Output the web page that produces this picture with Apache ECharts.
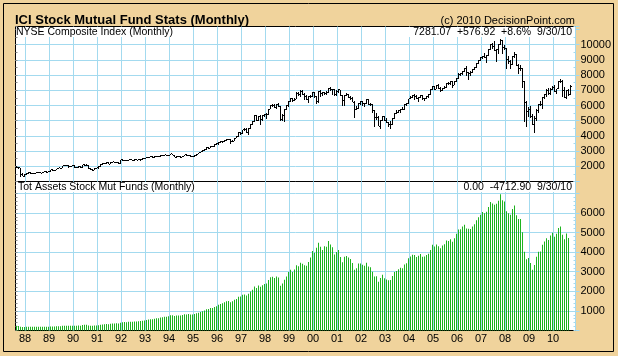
<!DOCTYPE html>
<html><head><meta charset="utf-8">
<script src="https://cdn.jsdelivr.net/npm/echarts@6/dist/echarts.min.js"></script>
<style>html,body{margin:0;padding:0;background:#fff}#c{width:618px;height:356px}</style>
</head><body><div id="c"></div>
<script>
// ---- data ----
const startYear = 1987, startMonth = 8, monthCount = 280; // Aug 1987 .. Nov 2010 axis
const yearLabels = ['88','89','90','91','92','93','94','95','96','97','98','99','00','01','02','03','04','05','06','07','08','09','10'];
const priceTicks = [2000,3000,4000,5000,6000,7000,8000,9000,10000];
const assetTicks = [1000,2000,3000,4000,5000,6000];

const nyseClose = [
1950,1900,1490,1360,1460,
1520,1590,1530,1550,1550,1620,1610,1550,1610,1650,1620,1650,
1770,1710,1750,1830,1890,1870,2030,2060,2050,1990,2020,2060,
1910,1930,1970,1920,2090,2070,2060,1860,1760,1750,1850,1900,
1980,2120,2160,2170,2250,2150,2240,2290,2250,2280,2180,2430,
2380,2410,2350,2420,2420,2380,2470,2410,2440,2440,2520,2540,
2560,2590,2640,2570,2630,2640,2630,2720,2690,2750,2710,2740,
2820,2730,2610,2630,2660,2590,2660,2760,2680,2740,2630,2650,
2710,2800,2880,2950,3050,3110,3210,3200,3320,3300,3430,3480,
3590,3610,3640,3690,3770,3770,3600,3660,3860,3960,4240,4150,
4400,4420,4230,4480,4740,4940,5320,5010,5280,5090,5320,5400,
5420,5760,6020,6030,5870,6050,5950,5050,5320,5710,6000,6290,
6450,6300,6420,6800,6700,6950,6750,6600,6400,6600,6600,6880,
6570,6290,6900,6820,6830,6790,6830,7150,7030,7030,6720,6950,
7030,6640,6320,6660,6720,6540,6490,6230,5720,5790,6120,6240,
6110,6110,6390,6100,6050,5690,5190,5220,4640,4990,5260,5000,
4860,4750,4780,5160,5500,5560,5640,5770,5720,6060,6130,6440,
6550,6690,6600,6440,6500,6660,6450,6470,6600,6700,7030,7250,
7080,7300,7150,6980,7150,7200,7470,7450,7550,7340,7590,7750,
8070,8100,8230,8420,8150,8130,8190,8350,8470,8740,8960,9140,
9230,9150,9270,9690,10000,9880,9620,9660,10010,10300,9800,9740,
9060,8880,8700,9200,9360,8650,8430,8440,7600,6170,5600,5760,
5300,4720,5130,5660,6070,6040,6510,6700,6970,6760,7060,7190,
6890,7090,7550,7590,6960,6520,6980,6700,7280
];
const nyseHigh = [
1990,1960,1920,1530,1480,
1560,1610,1620,1580,1580,1640,1650,1630,1630,1680,1670,1670,
1780,1790,1780,1840,1910,1920,2040,2100,2080,2090,2040,2080,
2080,1960,2000,1990,2100,2120,2130,2070,1880,1790,1860,1920,
2000,2140,2200,2210,2270,2270,2260,2310,2310,2310,2310,2440,
2460,2440,2430,2440,2450,2430,2480,2480,2470,2470,2530,2560,
2580,2620,2670,2650,2650,2660,2660,2730,2740,2770,2760,2760,
2840,2840,2750,2650,2680,2680,2670,2770,2780,2760,2760,2670,
2730,2820,2900,2960,3070,3130,3240,3240,3340,3340,3440,3510,
3600,3680,3680,3730,3800,3810,3790,3720,3880,3990,4260,4280,
4420,4500,4500,4500,4780,4990,5350,5360,5330,5400,5360,5460,
5480,5780,6060,6110,6070,6080,6170,5970,5420,5740,6030,6300,
6510,6480,6520,6880,6900,6990,7040,6800,6700,6640,6680,6900,
6910,6620,6940,7000,6920,6900,6930,7180,7200,7120,7110,6990,
7100,7050,6700,6700,6820,6770,6600,6550,6280,5960,6160,6270,
6290,6180,6420,6400,6180,6080,5720,5500,5300,5050,5340,5300,
5150,4900,4950,5180,5520,5680,5700,5780,5870,6080,6170,6450,
6620,6720,6750,6700,6540,6680,6690,6510,6650,6740,7060,7270,
7260,7360,7420,7220,7170,7300,7500,7560,7600,7600,7620,7800,
8110,8170,8290,8500,8630,8180,8240,8400,8540,8770,9000,9190,
9290,9480,9320,9720,10030,10120,10240,9740,10050,10390,10330,10000,
9800,9250,9000,9280,9550,9420,8720,8650,8500,7620,6300,5920,
6000,5470,5300,5740,6100,6300,6560,6770,7060,7160,7140,7260,
7330,7120,7590,7740,7680,7200,7050,7120,7350
];
const nyseLow = [
1870,1830,1320,1340,1320,
1430,1500,1510,1500,1510,1540,1580,1530,1540,1600,1590,1610,
1640,1700,1700,1740,1820,1840,1860,2020,2030,1920,1980,2000,
1870,1880,1920,1880,1910,2050,2020,1810,1740,1680,1740,1840,
1830,1970,2100,2130,2150,2120,2140,2200,2230,2230,2160,2150,
2360,2360,2330,2330,2400,2350,2360,2390,2400,2380,2430,2500,
2520,2520,2580,2540,2560,2600,2600,2620,2670,2680,2680,2700,
2730,2720,2580,2560,2610,2570,2580,2650,2670,2660,2610,2600,
2630,2700,2790,2870,2940,3030,3100,3160,3190,3250,3290,3420,
3420,3560,3560,3610,3660,3720,3440,3580,3640,3840,3950,4040,
4110,4340,4200,4050,4460,4700,4920,4980,4990,4750,5000,5240,
5140,5400,5740,5930,5840,5800,5900,4960,5000,4900,5690,5880,
6230,6200,6290,6400,6620,6580,6700,6380,6340,6180,6500,6560,
6500,6120,6160,6570,6600,6680,6690,6810,6950,6700,6650,6630,
6850,6600,6000,6000,6600,6480,6380,6200,5200,5700,5780,6060,
6000,5900,6090,6050,5950,5500,4600,5050,4630,4450,4960,4960,
4830,4600,4450,4740,5110,5470,5480,5540,5690,5700,5950,6110,
6420,6520,6380,6420,6240,6470,6360,6270,6440,6480,6680,7000,
6990,7060,7100,6860,6940,7110,7180,7370,7360,7140,7320,7570,
7740,7970,8020,8200,7940,7710,7950,8120,8310,8440,8730,8950,
9060,9100,8800,9240,9670,9700,9580,8840,9390,9980,9420,9640,
8430,8720,8400,8650,9160,8620,8050,8270,7130,4900,4610,5230,
5190,4710,4180,4970,5520,5940,5750,6460,6560,6720,6690,7020,
6860,6730,7080,7480,6550,6480,6420,6600,6690
];
const stockFundAssets = [
240,235,185,175,180,
185,190,188,190,190,195,193,188,193,196,193,195,
205,202,207,215,222,222,237,242,243,238,243,248,
240,245,252,248,280,290,288,258,242,240,252,258,
270,295,310,315,330,320,340,355,355,365,355,400,
415,430,425,440,450,445,465,460,470,480,500,515,
535,555,580,580,605,620,630,665,680,705,700,730,
780,775,745,760,770,760,790,830,820,840,810,820,
840,880,910,945,985,1025,1080,1100,1145,1150,1205,1240,
1310,1350,1385,1440,1490,1500,1440,1490,1570,1610,1720,1730,
1820,1840,1780,1870,1990,2080,2250,2170,2300,2230,2310,2370,
2400,2580,2720,2740,2680,2760,2700,2280,2400,2590,2760,2980,
3100,2980,3110,3330,3280,3450,3400,3330,3300,3500,3720,4060,
3960,4220,4480,4270,4100,4300,4270,4560,4390,4240,3880,4010,
4100,3750,3480,3760,3800,3720,3650,3440,3100,3180,3420,3420,
3360,3300,3450,3270,3220,3000,2760,2770,2490,2680,2850,2670,
2600,2560,2570,2780,2980,3040,3120,3200,3170,3370,3430,3680,
3780,3860,3850,3750,3810,3900,3760,3770,3850,3910,4110,4380,
4280,4390,4300,4200,4340,4400,4590,4570,4650,4530,4710,4940,
5150,5170,5300,5400,5200,5190,5180,5310,5420,5620,5780,5910,
6040,5980,6060,6300,6550,6480,6420,6460,6620,6950,6650,6580,
6080,5980,5900,6200,6370,5880,5690,5690,5010,4020,3640,3700,
3440,3100,3340,3760,4020,4030,4380,4540,4700,4620,4850,4990,
4780,4930,5230,5300,4890,4650,4950,4720
];

// ---- build ----
const months = [];
for (let k = 0; k < monthCount; k++) {
  const m0 = startMonth - 1 + k;
  const y = startYear + Math.floor(m0 / 12);
  const m = m0 % 12 + 1;
  months.push(y + '-' + String(m).padStart(2, '0'));
}
const isJan = (i) => !!months[i] && months[i].endsWith('-01');
const yearLabel = (v) => { const y = +String(v).slice(0, 4); return yearLabels[y - 1988] || ''; };

const TAN = '#f0d39c';
const BLUE = '#a3daef';
const FONT = '"Liberation Sans", Arial, sans-serif';
const T = 'rgba(0,0,0,0)';
const topLineColors = [T, BLUE, BLUE, BLUE, BLUE, BLUE, BLUE, BLUE, BLUE, BLUE, T, T];
const botLineColors = [T, BLUE, BLUE, BLUE, BLUE, BLUE, BLUE, BLUE, T];

function renderHLC(params, api) {
  const i = api.value(0);
  const h = api.coord([i, api.value(1)]);
  const l = api.coord([i, api.value(2)]);
  const c = api.coord([i, api.value(3)]);
  const x = Math.round(h[0] - 0.5) + 0.5;
  const y1 = Math.round(h[1]);
  let y2 = Math.round(l[1]);
  if (y2 <= y1) y2 = y1 + 1;
  const yc = Math.round(c[1] - 0.5) + 0.5;
  return { type: 'group', children: [
    { type: 'line', shape: { x1: x, y1: y1, x2: x, y2: y2 }, style: { stroke: '#000', lineWidth: 1 } },
    { type: 'line', shape: { x1: x + 0.5, y1: yc, x2: x + 1.5, y2: yc }, style: { stroke: '#000', lineWidth: 1 } }
  ]};
}

function txt(text, x, y, opts) {
  return { type: 'text', x: x, y: y, z: 60,
    style: Object.assign({ text: text, font: '10.5px ' + FONT, fill: '#000', textAlign: 'left', textVerticalAlign: 'middle' }, opts || {}) };
}
function whiteBox(x, y, w, h) {
  return { type: 'rect', z: 59, shape: { x: x, y: y, width: w, height: h }, style: { fill: '#fff' } };
}

const chart = echarts.init(document.getElementById('c'), null, { renderer: 'canvas' });
chart.setOption({
  animation: false,
  backgroundColor: TAN,
  textStyle: { fontFamily: FONT },
  grid: [
    { left: 15.5, width: 560, top: 26.5, height: 155, show: true, backgroundColor: '#fff', borderColor: '#000', borderWidth: 1 },
    { left: 15.5, width: 560, top: 181.5, height: 149, show: true, backgroundColor: '#fff', borderColor: '#000', borderWidth: 1 }
  ],
  xAxis: [
    { type: 'category', gridIndex: 0, data: months, boundaryGap: true,
      axisLine: { show: false }, axisTick: { show: false }, axisLabel: { show: false },
      splitLine: { show: true, interval: (i) => isJan(i), lineStyle: { color: BLUE, width: 1 } } },
    { type: 'category', gridIndex: 1, data: months, boundaryGap: true,
      axisLine: { show: false }, axisTick: { show: false },
      axisLabel: { show: true, interval: (i) => isJan(i), formatter: yearLabel, color: '#000', fontSize: 11, fontFamily: FONT, margin: 3, padding: [0, 3, 0, 0] },
      splitLine: { show: true, interval: (i) => isJan(i), lineStyle: { color: BLUE, width: 1 } } }
  ],
  yAxis: [
    { type: 'value', gridIndex: 0, position: 'right', min: 1000, max: 11200, interval: 1000,
      axisLine: { show: false },
      axisTick: { show: true, length: 4, lineStyle: { color: BLUE } },
      axisLabel: { formatter: (v) => priceTicks.includes(v) ? String(v) : '', color: '#000', fontSize: 11, fontFamily: FONT, margin: 5 },
      splitLine: { show: true, lineStyle: { color: topLineColors, width: 1 } } },
    { type: 'value', gridIndex: 1, position: 'right', min: 0, max: 7600, interval: 1000,
      axisLine: { show: false },
      axisTick: { show: true, length: 4, lineStyle: { color: BLUE } },
      axisLabel: { formatter: (v) => assetTicks.includes(v) ? String(v) : '', color: '#000', fontSize: 11, fontFamily: FONT, margin: 5 },
      splitLine: { show: true, lineStyle: { color: botLineColors, width: 1 } } },
    { type: 'value', gridIndex: 0, position: 'right', min: 1000, max: 11200, interval: 500,
      axisLine: { show: false }, axisLabel: { show: false }, splitLine: { show: false },
      axisTick: { show: true, inside: true, length: 2, lineStyle: { color: BLUE } } },
    { type: 'value', gridIndex: 1, position: 'right', min: 0, max: 7600, interval: 200,
      axisLine: { show: false }, axisLabel: { show: false }, splitLine: { show: false },
      axisTick: { show: true, inside: true, length: 2, lineStyle: { color: BLUE } } },
    { type: 'value', gridIndex: 0, position: 'left', min: 1000, max: 11200, interval: 500,
      axisLine: { show: false }, axisLabel: { show: false }, splitLine: { show: false },
      axisTick: { show: true, inside: true, length: 2, lineStyle: { color: '#8a8a8a' } } },
    { type: 'value', gridIndex: 1, position: 'left', min: 0, max: 7600, interval: 200,
      axisLine: { show: false }, axisLabel: { show: false }, splitLine: { show: false },
      axisTick: { show: true, inside: true, length: 2, lineStyle: { color: '#8a8a8a' } } }
  ],
  series: [
    { type: 'custom', name: 'NYSE Composite Index', xAxisIndex: 0, yAxisIndex: 0,
      data: nyseClose.map((c, i) => [i, nyseHigh[i], nyseLow[i], c]),
      renderItem: renderHLC, z: 5 },
    { type: 'bar', name: 'Tot Assets Stock Mut Funds', xAxisIndex: 1, yAxisIndex: 1,
      data: stockFundAssets, barWidth: 1, itemStyle: { color: '#1eb41e' }, z: 5 }
  ],
  graphic: [
    { type: 'rect', z: 100, shape: { x: 3.5, y: 3.5, width: 610, height: 348 }, style: { fill: 'none', stroke: '#000', lineWidth: 1 } },
    txt('ICI Stock Mutual Fund Stats (Monthly)', 15, 20, { font: 'bold 13px ' + FONT }),
    txt('(c) 2010 DecisionPoint.com', 575, 21, { textAlign: 'right', font: '11px ' + FONT }),
    whiteBox(16, 27, 159, 10),
    txt('NYSE Composite Index (Monthly)', 16, 32),
    whiteBox(409, 27, 166, 10),
    txt('7281.07  +576.92  +8.6%  9/30/10', 572, 32, { textAlign: 'right' }),
    whiteBox(16, 182, 179, 10),
    txt('Tot Assets Stock Mut Funds (Monthly)', 18, 187.5),
    whiteBox(461, 182, 114, 10),
    txt('0.00  -4712.90  9/30/10', 572, 187.5, { textAlign: 'right' })
  ]
});
</script>
</body></html>
